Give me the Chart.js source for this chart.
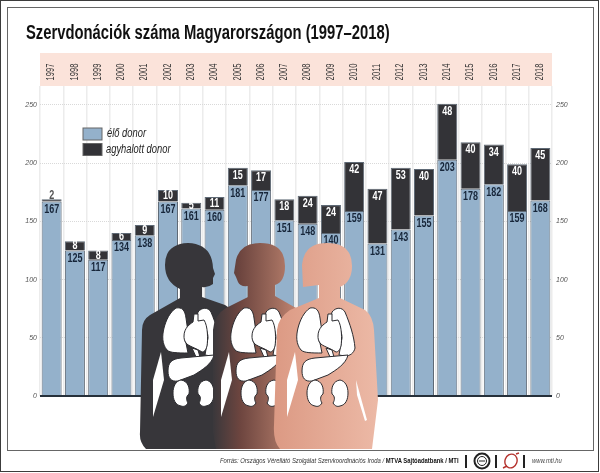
<!DOCTYPE html>
<html lang="hu">
<head>
<meta charset="utf-8">
<title>Szervdonációk száma Magyarországon</title>
<script src="https://cdn.jsdelivr.net/npm/chart.js@4"></script>
<style>
  html, body { margin: 0; padding: 0; background: #fff; }
  #page { position: relative; width: 600px; height: 473px; overflow: hidden; font-family: "Liberation Sans", sans-serif; }
  #page canvas, #page svg { position: absolute; left: 0; top: 0; }
  #outer { position: absolute; left: 0; top: 0; width: 597px; height: 470px; border: 1.5px solid #3c3c3c; }
  #frame { position: absolute; left: 7px; top: 7px; width: 585px; height: 442px; border: 1px solid #666; }
  #title { position: absolute; left: 26px; top: 21px; margin: 0; font: bold 20px "Liberation Sans", sans-serif; color: #111; white-space: nowrap; transform: scaleX(0.74); transform-origin: left top; }
  #source { position: absolute; left: 220px; top: 456px; font: italic 8px "Liberation Sans", sans-serif; color: #333; white-space: nowrap; transform: scaleX(0.735); transform-origin: left top; }
  #source b { font-style: normal; color: #111; }
  #web { position: absolute; left: 532px; top: 456px; font: italic 8px "Liberation Sans", sans-serif; color: #444; transform: scaleX(0.73); transform-origin: left top; }
</style>
</head>
<body>
<div id="page">
  <div id="outer"></div>
  <div id="frame"></div>
  <canvas id="donorChart" width="600" height="473"></canvas>
  <svg width="600" height="473" viewBox="0 0 600 473">
    <defs>
      <linearGradient id="midBody" gradientUnits="userSpaceOnUse" x1="212" y1="0" x2="305" y2="0">
        <stop offset="0" stop-color="#38373b"/>
        <stop offset="0.3" stop-color="#6d453f"/>
        <stop offset="0.7" stop-color="#a06d5e"/>
        <stop offset="1" stop-color="#cf8d78"/>
      </linearGradient>
      <linearGradient id="rightBody" gradientUnits="userSpaceOnUse" x1="275" y1="0" x2="378" y2="0">
        <stop offset="0" stop-color="#dc9a84"/>
        <stop offset="1" stop-color="#ecb9a6"/>
      </linearGradient>
      <g id="organs" fill="#fff" stroke="#2c2c30" stroke-width="1" stroke-linejoin="round">
        <path d="M50 68 C56 67 59 70 60 78 L62 92 C59 96 58 100 60 103 L62 113 C52 113 44 113 41 110 C36 104 36 96 38 88 C40 80 44 72 50 68 Z"/>
        <path d="M72 72 C76 67 82 67 85 72 C90 84 94 96 95 108 C94 113 90 116 85 116 L79 115 L82 98 C82 90 78 84 70 83 Z"/>
        <path d="M58 96 C58 88 64 84 67 82 L68 74 L72 74 L72 81 L78 80 C82 86 82 100 81 106 C80 110 78 112 76 112 C70 108 62 106 60 103 C58 100 58 98 58 96 Z"/>
        <path d="M66 108 L72 110 L74 117 L70 117 Z"/>
        <path d="M42 131 C42 122 46 119 55 118 L88 115 C86 124 76 130 68 135 L52 141 C45 142 42 138 42 131 Z"/>
        <path d="M55 140 C62 141 64 148 63 154 C60 156 60 160 62 163 C60 166 58 167 55 166 C49 165 47 159 47 153 C47 146 50 141 55 140 Z"/>
        <path d="M80 140 C73 141 71 148 72 154 C75 156 75 160 73 163 C75 166 77 167 80 166 C86 165 88 159 88 153 C88 146 85 141 80 140 Z"/>
        <path d="M35 112 L38 140 L27 177 L27 140 Z" stroke="none"/>
      </g>
    </defs>
    <path fill="#37363a" d="M165 265 Q165 244 188 243 Q212 244 213 268 L215 274 L213 278 L213 284 Q208 288 202 287 L202 297 L225 305 L240 315 L240 449 L146 449 Q139 442 140 432 L142 330 Q142 320 150 315 L180 298 L180 289 Q165 282 165 265 Z"/>
    <use href="#organs" x="126" y="240"/>
    <path fill="url(#midBody)" d="M236 260 Q240 243 260 243 Q285 243 285 266 Q285 282 275 285 L275 296 L296 308 L306 320 L306 449 L216 449 L213 432 L213 330 Q214 315 226 308 L248 297 L248 286 Q240 287 238 282 L236 277 L234 273 Z"/>
    <use href="#organs" x="194" y="240"/>
    <path fill="url(#rightBody)" d="M302 265 Q304 243 327 243 Q352 243 352 266 Q352 282 340 287 L340 298 L365 310 Q373 316 374 330 L378 400 L372 449 L280 449 Q273 442 274 425 L277 330 Q278 318 290 310 L319 298 L319 285 L303 287 Z"/>
    <use href="#organs" x="260" y="240"/>
    <path fill="#fff" d="M356 380 L367 420 L365 421 L357 395 Z"/>
    <g fill="none" stroke="#222" stroke-width="2">
      <path d="M466 455 V468 M496 455 V468 M524 455 V468"/>
      <circle cx="482" cy="461" r="7.5"/>
      <circle cx="482" cy="461" r="4.5" stroke-width="1"/>
      <path d="M479 461 H485" stroke-width="1"/>
      <g stroke="#b5332e" stroke-width="1.4">
        <ellipse cx="511" cy="461" rx="6" ry="7" transform="rotate(20 511 461)"/>
        <path d="M503 468 L507 466 M516 454 L519 453"/>
      </g>
    </g>
  </svg>
  <h1 id="title">Szervdonációk száma Magyarországon (1997–2018)</h1>
  <div id="source">Forrás: Országos Vérellátó Szolgálat Szervkoordinációs Iroda / <b>MTVA Sajtóadatbank / MTI</b></div>
  <div id="web">www.mti.hu</div>
</div>
<script>
const YEARS = ["1997", "1998", "1999", "2000", "2001", "2002", "2003", "2004", "2005", "2006", "2007",
  "2008", "2009", "2010", "2011", "2012", "2013", "2014", "2015", "2016", "2017", "2018"];
const LIVE_DONORS = [167, 125, 117, 134, 138, 167, 161, 160, 181, 177, 151, 148, 140, 159, 131, 143, 155, 203, 178, 182, 159, 168];
const DEAD_DONORS = [2, 8, 8, 6, 9, 10, 5, 11, 15, 17, 18, 24, 24, 42, 47, 53, 40, 48, 40, 34, 40, 45];
const LEGEND_LABELS = ["élő donor", "agyhalott donor"];

const BLUE = "#94b1cb";
const DARK = "#333337";
const FONT = '"Liberation Sans", sans-serif';

// no narrow font here, so text gets squeezed along its length
function drawSqueezed(ctx, text, x, y, squeeze, color, rotate) {
  ctx.save();
  ctx.translate(x, y);
  if (rotate) ctx.rotate(-Math.PI / 2);
  ctx.scale(squeeze, 1);
  ctx.fillStyle = color;
  ctx.fillText(text, 0, 0);
  ctx.restore();
}

// year band and its labels, behind the bars
const yearBand = {
  id: "yearBand",
  beforeDraw(chart) {
    const { ctx, chartArea, scales } = chart;
    ctx.save();
    ctx.fillStyle = "#fbe3da";
    ctx.fillRect(chartArea.left, 53, chartArea.width, 33);
    ctx.font = "10px " + FONT;
    ctx.textAlign = "center";
    ctx.textBaseline = "middle";
    YEARS.forEach((year, i) => {
      drawSqueezed(ctx, year, scales.x.getPixelForTick(i), 72, 0.76, "#333", true);
    });
    ctx.restore();
  },
};

// value labels, baseline and legend
const barLabels = {
  id: "barLabels",
  afterDatasetsDraw(chart) {
    const { ctx, chartArea, scales } = chart;
    const zero = scales.y.getPixelForValue(0);

    ctx.save();
    ctx.strokeStyle = "#26303a";
    ctx.lineWidth = 2;
    ctx.beginPath();
    ctx.moveTo(chartArea.left, zero);
    ctx.lineTo(chartArea.right, zero);
    ctx.stroke();

    ctx.font = "bold 12.5px " + FONT;
    ctx.textAlign = "center";
    ctx.textBaseline = "middle";

    chart.getDatasetMeta(0).data.forEach((bar, i) => {
      drawSqueezed(ctx, String(LIVE_DONORS[i]), bar.x, bar.y + 8, 0.72, "#17263a");
    });
    chart.getDatasetMeta(1).data.forEach((bar, i) => {
      let y = Math.min((bar.y + bar.base) / 2, bar.y + 7.5);
      if (DEAD_DONORS[i] <= 2) y = bar.y - 4;
      drawSqueezed(ctx, String(DEAD_DONORS[i]), bar.x, y, 0.72, DEAD_DONORS[i] <= 2 ? "#555" : "#fff");
    });

    // legend
    ctx.textAlign = "left";
    ctx.font = "italic 12px " + FONT;
    [BLUE, DARK].forEach((color, i) => {
      const top = 128 + i * 15.5;
      ctx.fillStyle = color;
      ctx.strokeStyle = "#666";
      ctx.lineWidth = 1;
      ctx.fillRect(83, top, 19, 12);
      ctx.strokeRect(83, top, 19, 12);
      drawSqueezed(ctx, LEGEND_LABELS[i], i === 0 ? 107 : 106, top + 6, 0.78, "#222");
    });
    ctx.restore();
  },
};

function onlyFifties(scale) {
  scale.ticks = scale.ticks.filter((t) => t.value % 50 === 0);
}

const valueAxis = (position, width) => ({
  position,
  stacked: true,
  min: 0,
  max: 266.3,
  afterFit: (scale) => { scale.width = width; },
  afterBuildTicks: onlyFifties,
  border: { display: false, dash: [1, 1] },
  grid: { color: "#d9d9d9", drawTicks: false, drawOnChartArea: position === "left" },
  ticks: {
    stepSize: 50,
    padding: position === "left" ? 3 : 4,
    color: "#555",
    crossAlign: "near",
    font: { family: FONT, size: 7, style: "italic" },
  },
});

new Chart(document.getElementById("donorChart"), {
  type: "bar",
  data: {
    labels: YEARS,
    datasets: [
      { label: LEGEND_LABELS[0], data: LIVE_DONORS, backgroundColor: BLUE, borderColor: "#5f6a76", borderWidth: 1 },
      { label: LEGEND_LABELS[1], data: DEAD_DONORS, backgroundColor: DARK, borderColor: "#5f6a76", borderWidth: 1 },
    ],
  },
  options: {
    responsive: false,
    animation: false,
    barPercentage: 0.86,
    categoryPercentage: 1,
    layout: { padding: { left: 0, right: 0, top: 53, bottom: 77 } },
    plugins: { legend: { display: false }, tooltip: { enabled: false } },
    scales: {
      x: {
        position: "top",
        stacked: true,
        afterFit: (scale) => { scale.height = 33; },
        border: { display: false },
        grid: { color: "#ececec", lineWidth: 1.5, drawTicks: false },
        ticks: { display: false, autoSkip: false },
      },
      y: valueAxis("left", 40),
      y2: valueAxis("right", 48),
    },
  },
  plugins: [yearBand, barLabels],
});
</script>
</body>
</html>
